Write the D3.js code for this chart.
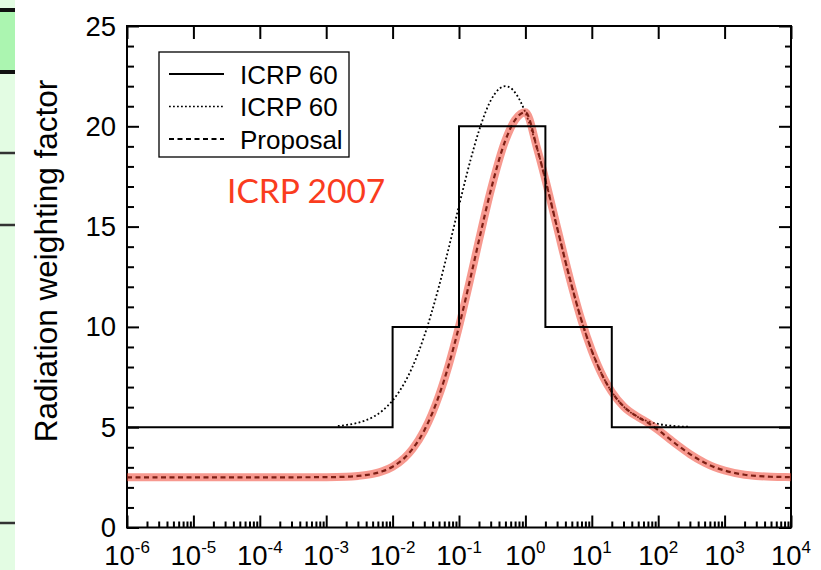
<!DOCTYPE html>
<html><head><meta charset="utf-8">
<script src="https://cdn.jsdelivr.net/npm/d3@7"></script>
<style>body{margin:0;background:#fff;} svg{display:block}</style>
</head><body>
<svg id="c" width="821" height="570"></svg>
<script>
// ---- data ----
const stepEdges = [1e-6, 1e-2, 1e-1, 2, 20, 1e4];
const stepWeights = [5, 10, 20, 10, 5];

const energy60 = [0.0015,0.002,0.003,0.005,0.007,0.01,0.015,0.02,0.03,0.05,0.07,0.1,0.15,0.2,0.3,0.4,0.5,0.6,0.7,1,1.5,2,3,5,7,10,15,20,30,50,70,100,150,200,300];
const weight60 = [5.06,5.11,5.22,5.50,5.82,6.33,7.19,8.02,9.55,12.03,13.93,16.04,18.35,19.78,21.28,21.86,22.0,21.91,21.68,20.69,18.90,17.34,14.96,12.03,10.32,8.81,7.47,6.76,6.04,5.50,5.29,5.16,5.08,5.04,5.02];

const energy07 = [1e-6,1e-5,1e-4,1e-3,0.002,0.003,0.005,0.007,0.01,0.015,0.02,0.03,0.05,0.07,0.1,0.15,0.2,0.3,0.5,0.7,0.85,1,1.5,2,3,5,7,10,15,20,30,50,70,100,150,200,300,500,700,1000,2000,3000,5000,7000,1e4];
const weight07 = [2.5,2.5,2.5,2.51,2.53,2.57,2.67,2.80,3.03,3.46,3.92,4.84,6.58,8.10,10.02,12.49,14.32,16.79,19.30,20.32,20.62,20.70,18.90,17.34,14.96,12.03,10.32,8.81,7.47,6.76,6.04,5.50,5.22,4.86,4.40,4.08,3.66,3.23,3.01,2.84,2.63,2.57,2.53,2.52,2.51];
const proposalWeight = [2.5,2.5,2.5,2.51,2.53,2.57,2.67,2.80,3.03,3.46,3.92,4.84,6.58,8.10,10.02,12.49,14.32,16.79,19.30,20.32,20.62,20.70,18.90,17.34,14.96,12.03,10.32,8.81,7.47,6.76,6.04,5.50,5.22,4.86,4.40,4.08,3.66,3.23,3.01,2.84,2.63,2.57,2.53,2.52,2.51];

const xExponents = [-6,-5,-4,-3,-2,-1,0,1,2,3,4];
const yTicks = [0,5,10,15,20,25];
const legendLabels = ["ICRP 60","ICRP 60","Proposal"];
const yTitle = "Radiation weighting factor";
const noteLabel = "ICRP 2007";

// ---- drawing ----
const svg = d3.select("#c");
const L = 127, R = 791, T = 26, B = 527.5;
const x = d3.scaleLog().domain([1e-6, 1e4]).range([L, R]);
const y = d3.scaleLinear().domain([0, 25]).range([B, T]);

// left slide strip
const strip = svg.append("g");
strip.append("rect").attr("x",0).attr("y",0).attr("width",15).attr("height",570).attr("fill","#e3fce3");
strip.append("rect").attr("x",0).attr("y",10).attr("width",15).attr("height",62).attr("fill","#abf5b0");
[[10,4,"#111"],[72,4,"#111"],[153,2.5,"#333"],[225,2.5,"#333"],[523,2.5,"#333"]].forEach(([yy,w,c])=>{
  strip.append("line").attr("x1",0).attr("x2",15).attr("y1",yy).attr("y2",yy).attr("stroke",c).attr("stroke-width",w);
});

const majorX = xExponents.map(e => Math.pow(10, e));
const minorX = [];
xExponents.slice(0, -1).forEach(e => { for (let k = 2; k <= 9; k++) minorX.push(k * Math.pow(10, e)); });
const minorY = d3.range(0, 26).filter(v => v % 5 !== 0);

const axStyle = g => { g.select(".domain").remove(); g.selectAll(".tick line").attr("stroke","#000").attr("stroke-width",2); g.selectAll("text").remove(); };

// bottom
svg.append("g").attr("transform",`translate(0,${B})`).call(d3.axisBottom(x).tickValues(majorX).tickSize(-12).tickFormat("")).call(axStyle);
svg.append("g").attr("transform",`translate(0,${B})`).call(d3.axisBottom(x).tickValues(minorX).tickSize(-6).tickFormat("")).call(axStyle);
// top
svg.append("g").attr("transform",`translate(0,${T})`).call(d3.axisTop(x).tickValues(majorX).tickSize(-13).tickFormat("")).call(axStyle);
// left
svg.append("g").attr("transform",`translate(${L},0)`).call(d3.axisLeft(y).tickValues(yTicks).tickSize(-12).tickFormat("")).call(axStyle);
svg.append("g").attr("transform",`translate(${L},0)`).call(d3.axisLeft(y).tickValues(minorY).tickSize(-7).tickFormat("")).call(axStyle);
// right
svg.append("g").attr("transform",`translate(${R},0)`).call(d3.axisRight(y).tickValues(yTicks).tickSize(-12).tickFormat("")).call(axStyle);
svg.append("g").attr("transform",`translate(${R},0)`).call(d3.axisRight(y).tickValues(minorY).tickSize(-6).tickFormat("")).call(axStyle);

// frame
svg.append("rect").attr("x",L).attr("y",T).attr("width",R-L).attr("height",B-T)
  .attr("fill","none").attr("stroke","#000").attr("stroke-width",2);

// tick labels
const font = "'Liberation Sans', Arial, Helvetica, sans-serif";
xExponents.forEach(e => {
  const t = svg.append("text").attr("x", x(Math.pow(10,e))).attr("y", 565)
    .attr("text-anchor","middle").attr("font-family",font).attr("font-size",27.5).attr("fill","#000");
  t.append("tspan").text("10");
  t.append("tspan").attr("dy",-12).attr("font-size",17).text(e < 0 ? "-" + (-e) : String(e));
});
yTicks.forEach(v => {
  svg.append("text").attr("x",116).attr("y",y(v)+9.5).attr("text-anchor","end")
    .attr("font-family",font).attr("font-size",27.5).attr("fill","#000").text(v);
});
svg.append("text").attr("transform",`translate(57,261) rotate(-90)`).attr("text-anchor","middle")
  .attr("font-family",font).attr("font-size",31.5).attr("fill","#000").text(yTitle);

// curves
const clip = svg.append("clipPath").attr("id","pc").append("rect").attr("x",L).attr("y",T).attr("width",R-L).attr("height",B-T);
const plot = svg.append("g").attr("clip-path","url(#pc)");
const line = d3.line().x(d => x(d[0])).y(d => y(d[1])).curve(d3.curveMonotoneX);

plot.append("path").datum(energy60.map((e,i)=>[e,weight60[i]])).attr("d",line)
  .attr("fill","none").attr("stroke","#000").attr("stroke-width",1.8).attr("stroke-dasharray","1.8,2.4");
plot.append("path").datum(energy07.map((e,i)=>[e,proposalWeight[i]])).attr("d",line)
  .attr("fill","none").attr("stroke","#000").attr("stroke-width",2.2).attr("stroke-dasharray","5,3.5");
plot.append("path").datum(energy07.map((e,i)=>[e,weight07[i]])).attr("d",line)
  .attr("fill","none").attr("stroke","#f03c28").attr("stroke-opacity",0.52).attr("stroke-width",8);

const stepData = stepEdges.map((e,i)=>[e, i < stepWeights.length ? stepWeights[i] : stepWeights[stepWeights.length-1]]);
plot.append("path").datum(stepData).attr("d", d3.line().x(d=>x(d[0])).y(d=>y(d[1])).curve(d3.curveStepAfter))
  .attr("fill","none").attr("stroke","#000").attr("stroke-width",2);

// legend
const lg = svg.append("g");
lg.append("rect").attr("x",159).attr("y",52).attr("width",190).attr("height",105)
  .attr("fill","#fff").attr("stroke","#000").attr("stroke-width",1.3);
const dashes = [null, "1.8,2.2", "5,3.5"];
const widths = [2, 1.6, 2];
legendLabels.forEach((lab,i) => {
  const ly = 74 + i*32.5;
  const ln = lg.append("line").attr("x1",169).attr("x2",224).attr("y1",ly).attr("y2",ly)
    .attr("stroke","#000").attr("stroke-width",widths[i]);
  if (dashes[i]) ln.attr("stroke-dasharray",dashes[i]);
  lg.append("text").attr("x",240).attr("y",ly+9.5).attr("font-family",font).attr("font-size",26)
    .attr("fill","#000").text(lab);
});

svg.append("text").attr("x",227).attr("y",203).attr("font-family","Lato, 'Open Sans', sans-serif")
  .attr("font-size",33.5).attr("fill","#fa3c1e").text(noteLabel);
</script>
</body></html>
